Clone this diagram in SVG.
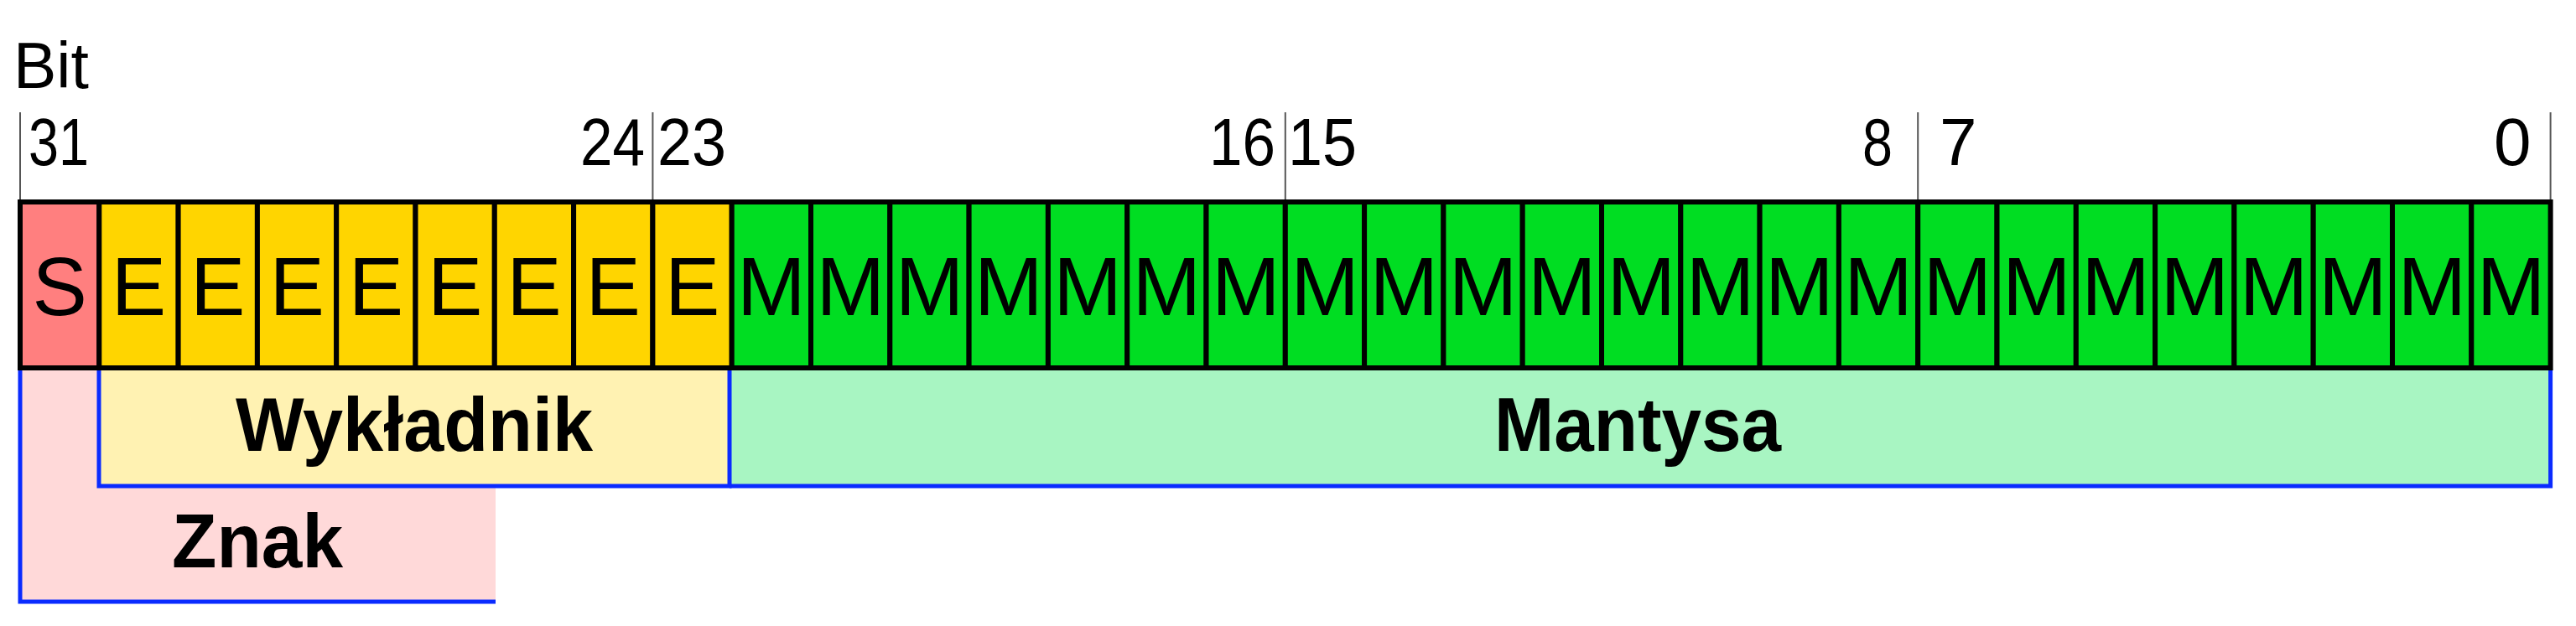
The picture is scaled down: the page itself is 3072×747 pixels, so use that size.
<svg xmlns="http://www.w3.org/2000/svg" width="3072" height="747" viewBox="0 0 3072 747">
<style>
.cell{stroke:#000;stroke-width:6}
.s{fill:#FF7F7F}.e{fill:#FFD500}.m{fill:#00DD22}
.ct{font-family:"Liberation Sans",Arial,sans-serif;font-size:98px;text-anchor:middle;fill:#000}
.num{font-family:"Liberation Sans",Arial,sans-serif;font-size:80px;fill:#000}
.lbl{font-family:"Liberation Sans",Arial,sans-serif;font-size:91px;font-weight:bold;text-anchor:middle;fill:#000}
.tick{stroke:#555;stroke-width:2;fill:none}
.blue{stroke:#0A2BFF;stroke-width:5;fill:none}
</style>
<rect width="3072" height="747" fill="#fff"/>
<g id="regions">
<g id="mantysa"><rect x="870" y="440" width="2171.6" height="140" fill="#A8F5C2"/><path class="blue" d="M870,580H3041.6V440"/><text class="lbl" x="1953" y="538" textLength="342" lengthAdjust="spacingAndGlyphs">Mantysa</text></g>
<g id="znak"><rect x="24" y="440" width="567" height="278" fill="#FFD9D9"/><path class="blue" d="M24,440V718H591"/><text class="lbl" x="307" y="677" textLength="204" lengthAdjust="spacingAndGlyphs">Znak</text></g>
<g id="wykladnik"><rect x="118" y="440" width="752" height="140" fill="#FFF2B2"/><path class="blue" d="M118,440V580H870V440"/><text class="lbl" x="494" y="538" textLength="426" lengthAdjust="spacingAndGlyphs">Wykładnik</text></g>
</g>
<g id="connectors">
<path class="tick" d="M24,134V241M778.4,134V241M1532.8,134V241M2287.2,134V241M3041.6,134V241"/>
</g>
<g id="labels">
<text id="lbl-bit" class="num" x="16" y="105" style="font-size:77px">Bit</text>
<text id="lbl-31" class="num" x="34" y="197" textLength="72" lengthAdjust="spacingAndGlyphs">31</text>
<text id="lbl-24" class="num" x="692" y="197" textLength="77" lengthAdjust="spacingAndGlyphs">24</text>
<text id="lbl-23" class="num" x="784" y="197" textLength="82" lengthAdjust="spacingAndGlyphs">23</text>
<text id="lbl-16" class="num" x="1442" y="197" textLength="79" lengthAdjust="spacingAndGlyphs">16</text>
<text id="lbl-15" class="num" x="1536" y="197" textLength="82" lengthAdjust="spacingAndGlyphs">15</text>
<text id="lbl-8" class="num" x="2221" y="197" textLength="36" lengthAdjust="spacingAndGlyphs">8</text>
<text id="lbl-7" class="num" x="2313" y="197">7</text>
<text id="lbl-0" class="num" x="2974" y="197">0</text>
</g>
<g id="cells">
<g id="bit31"><rect class="cell s" x="24" y="241" width="94.3" height="198"/><text class="ct" x="71.2" y="376">S</text></g>
<g id="bit30"><rect class="cell e" x="118.3" y="241" width="94.3" height="198"/><text class="ct" x="165.5" y="376">E</text></g>
<g id="bit29"><rect class="cell e" x="212.6" y="241" width="94.3" height="198"/><text class="ct" x="259.8" y="376">E</text></g>
<g id="bit28"><rect class="cell e" x="306.9" y="241" width="94.3" height="198"/><text class="ct" x="354.1" y="376">E</text></g>
<g id="bit27"><rect class="cell e" x="401.2" y="241" width="94.3" height="198"/><text class="ct" x="448.4" y="376">E</text></g>
<g id="bit26"><rect class="cell e" x="495.5" y="241" width="94.3" height="198"/><text class="ct" x="542.7" y="376">E</text></g>
<g id="bit25"><rect class="cell e" x="589.8" y="241" width="94.3" height="198"/><text class="ct" x="637" y="376">E</text></g>
<g id="bit24"><rect class="cell e" x="684.1" y="241" width="94.3" height="198"/><text class="ct" x="731.3" y="376">E</text></g>
<g id="bit23"><rect class="cell e" x="778.4" y="241" width="94.3" height="198"/><text class="ct" x="825.6" y="376">E</text></g>
<g id="bit22"><rect class="cell m" x="872.7" y="241" width="94.3" height="198"/><text class="ct" x="919.9" y="376">M</text></g>
<g id="bit21"><rect class="cell m" x="967" y="241" width="94.3" height="198"/><text class="ct" x="1014.2" y="376">M</text></g>
<g id="bit20"><rect class="cell m" x="1061.3" y="241" width="94.3" height="198"/><text class="ct" x="1108.5" y="376">M</text></g>
<g id="bit19"><rect class="cell m" x="1155.6" y="241" width="94.3" height="198"/><text class="ct" x="1202.8" y="376">M</text></g>
<g id="bit18"><rect class="cell m" x="1249.9" y="241" width="94.3" height="198"/><text class="ct" x="1297.1" y="376">M</text></g>
<g id="bit17"><rect class="cell m" x="1344.2" y="241" width="94.3" height="198"/><text class="ct" x="1391.4" y="376">M</text></g>
<g id="bit16"><rect class="cell m" x="1438.5" y="241" width="94.3" height="198"/><text class="ct" x="1485.7" y="376">M</text></g>
<g id="bit15"><rect class="cell m" x="1532.8" y="241" width="94.3" height="198"/><text class="ct" x="1580" y="376">M</text></g>
<g id="bit14"><rect class="cell m" x="1627.1" y="241" width="94.3" height="198"/><text class="ct" x="1674.3" y="376">M</text></g>
<g id="bit13"><rect class="cell m" x="1721.4" y="241" width="94.3" height="198"/><text class="ct" x="1768.6" y="376">M</text></g>
<g id="bit12"><rect class="cell m" x="1815.7" y="241" width="94.3" height="198"/><text class="ct" x="1862.9" y="376">M</text></g>
<g id="bit11"><rect class="cell m" x="1910" y="241" width="94.3" height="198"/><text class="ct" x="1957.2" y="376">M</text></g>
<g id="bit10"><rect class="cell m" x="2004.3" y="241" width="94.3" height="198"/><text class="ct" x="2051.5" y="376">M</text></g>
<g id="bit9"><rect class="cell m" x="2098.6" y="241" width="94.3" height="198"/><text class="ct" x="2145.8" y="376">M</text></g>
<g id="bit8"><rect class="cell m" x="2192.9" y="241" width="94.3" height="198"/><text class="ct" x="2240.1" y="376">M</text></g>
<g id="bit7"><rect class="cell m" x="2287.2" y="241" width="94.3" height="198"/><text class="ct" x="2334.4" y="376">M</text></g>
<g id="bit6"><rect class="cell m" x="2381.5" y="241" width="94.3" height="198"/><text class="ct" x="2428.7" y="376">M</text></g>
<g id="bit5"><rect class="cell m" x="2475.8" y="241" width="94.3" height="198"/><text class="ct" x="2523" y="376">M</text></g>
<g id="bit4"><rect class="cell m" x="2570.1" y="241" width="94.3" height="198"/><text class="ct" x="2617.3" y="376">M</text></g>
<g id="bit3"><rect class="cell m" x="2664.4" y="241" width="94.3" height="198"/><text class="ct" x="2711.6" y="376">M</text></g>
<g id="bit2"><rect class="cell m" x="2758.7" y="241" width="94.3" height="198"/><text class="ct" x="2805.9" y="376">M</text></g>
<g id="bit1"><rect class="cell m" x="2853" y="241" width="94.3" height="198"/><text class="ct" x="2900.2" y="376">M</text></g>
<g id="bit0"><rect class="cell m" x="2947.3" y="241" width="94.3" height="198"/><text class="ct" x="2994.5" y="376">M</text></g>
</g>
</svg>
